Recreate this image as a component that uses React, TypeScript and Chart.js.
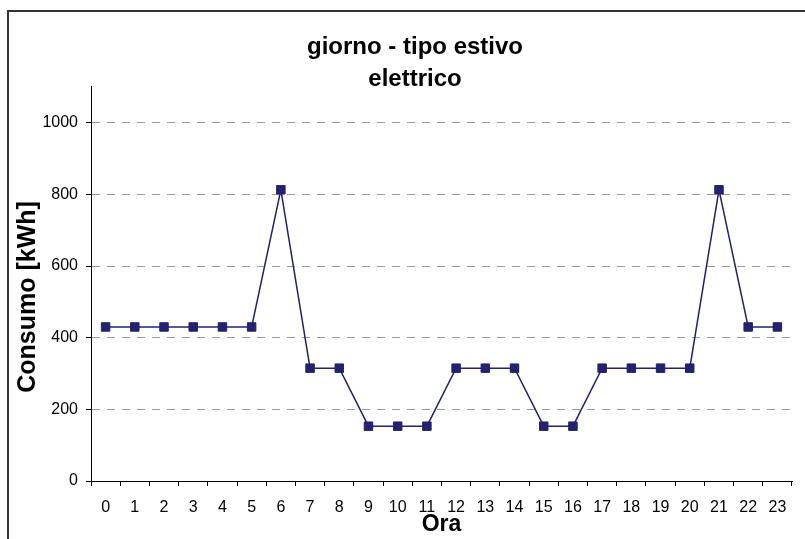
import React, { useEffect, useRef } from "react";
import { Chart, registerables } from "chart.js";

Chart.register(...registerables);

const hours: string[] = [
  "0", "1", "2", "3", "4", "5", "6", "7", "8", "9", "10", "11",
  "12", "13", "14", "15", "16", "17", "18", "19", "20", "21", "22", "23",
];
const consumo: number[] = [
  430, 430, 430, 430, 430, 430, 813, 315, 315, 153, 153, 153,
  315, 315, 315, 153, 153, 315, 315, 315, 315, 813, 430, 430,
];
const titleLines: string[] = ["giorno - tipo estivo", "elettrico"];
const yTitle = "Consumo [kWh]";
const xTitle = "Ora";

const FONT = "'Liberation Sans', Arial, Helvetica, sans-serif";
const NAVY = "#22226f";

const yTitlePlugin = {
  id: "yTitlePlugin",
  afterDraw(chart: any) {
    const { ctx, chartArea } = chart;
    const cy = (chartArea.top + chartArea.bottom) / 2 + 13;
    ctx.save();
    ctx.translate(26, cy);
    ctx.rotate(-Math.PI / 2);
    ctx.font = `bold 25px ${FONT}`;
    ctx.fillStyle = "#000";
    ctx.textAlign = "center";
    ctx.textBaseline = "alphabetic";
    ctx.fillText(yTitle, 0, 0);
    ctx.restore();
  },
};

export default function App() {
  const ref = useRef<HTMLCanvasElement | null>(null);

  useEffect(() => {
    document.body.style.margin = "0";
    const canvas = ref.current;
    if (!canvas) return;
    const chart = new Chart(canvas, {
      type: "line",
      data: {
        labels: hours,
        datasets: [
          {
            data: consumo,
            yAxisID: "y",
            borderColor: NAVY,
            backgroundColor: NAVY,
            borderWidth: 1.5,
            pointStyle: "rect",
            pointRadius: 6,
            pointBorderWidth: 1,
            pointBackgroundColor: NAVY,
            pointBorderColor: NAVY,
            tension: 0,
            fill: false,
          },
        ],
      },
      options: {
        responsive: false,
        animation: false,
        layout: { padding: 0 },
        plugins: {
          legend: { display: false },
          tooltip: { enabled: false },
          title: {
            display: true,
            text: titleLines,
            color: "#000",
            font: { family: FONT, size: 24, weight: "bold", lineHeight: 1.333 },
            padding: { top: 19.5, bottom: -8.5 },
          },
        },
        scales: {
          x: {
            type: "category",
            offset: true,
            afterFit: (scale: any) => {
              scale.height = 58;
            },
            grid: {
              offset: true,
              drawOnChartArea: false,
              drawTicks: true,
              tickLength: 5,
              tickColor: "#000",
              color: "#000",
            },
            border: { display: true, color: "#000", width: 1 },
            ticks: {
              color: "#000",
              font: { family: FONT, size: 16 },
              padding: 12,
              maxRotation: 0,
              autoSkip: false,
            },
            title: {
              display: true,
              text: xTitle,
              color: "#000",
              font: { family: FONT, size: 23, weight: "bold", lineHeight: 1.2 },
              padding: { top: 0, bottom: 1 },
            },
          },
          y: {
            min: 0,
            max: 1100,
            afterBuildTicks: (scale: any) => {
              scale.ticks = scale.ticks.filter((t: any) => t.value <= 1000);
            },
            afterFit: (scale: any) => {
              scale.width = 82;
            },
            grid: {
              color: "#9a9a9a",
              lineWidth: 1,
              drawTicks: true,
              tickLength: 5,
              tickColor: "#000",
              tickBorderDash: [],
            },
            border: { display: true, color: "#000", width: 1, dash: [8, 7] },
            ticks: {
              stepSize: 200,
              color: "#000",
              font: { family: FONT, size: 16 },
              padding: 8,
              callback: (v: any) => String(v),
            },
          },
          yRight: {
            position: "right",
            display: true,
            min: 0,
            max: 1,
            grid: { display: false, drawTicks: false },
            border: { display: false },
            ticks: { display: false },
            afterFit: (scale: any) => {
              scale.width = 29;
            },
          },
        },
      },
      plugins: [yTitlePlugin],
    } as any);
    return () => chart.destroy();
  }, []);

  return (
    <div
      style={{
        position: "fixed",
        left: 0,
        top: 0,
        width: 805,
        height: 539,
        overflow: "hidden",
        background: "#fff",
      }}
    >
      <div
        style={{
          position: "absolute",
          left: 7,
          top: 10,
          width: 812,
          height: 560,
          border: "2px solid #333",
        }}
      >
        <canvas ref={ref} width={812} height={527} style={{ display: "block" }} />
      </div>
    </div>
  );
}
